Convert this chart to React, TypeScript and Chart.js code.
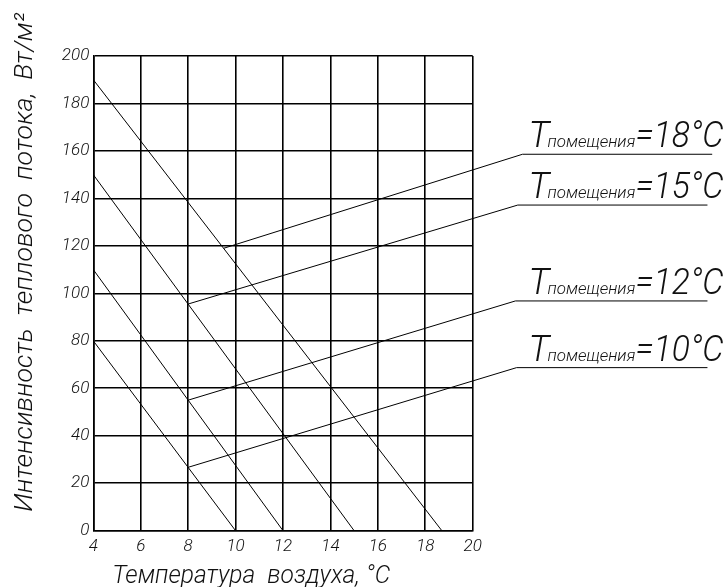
import { useEffect, useRef } from "react";
import { Chart, registerables } from "chart.js";

Chart.register(...registerables);

// Axis ranges / ticks
const X_MIN = 4;
const X_MAX = 20;
const X_STEP = 2;
const Y_MIN = 0;
const Y_MAX = 200;
const Y_STEP = 20;

// Room temperatures (series)
const roomTemps = [18, 15, 12, 10];
// Descending lines: value at x = 4 and x where value reaches 0
const lineStartX = [4, 4, 4, 4];
const lineStartY = [190, 150, 110, 80];
const lineZeroX = [18.7, 15, 12, 10];
// Leader lines to labels
const leaderStartX = [9.5, 8, 8, 8];
const leaderStartY = [119, 95.5, 55, 26.7];
const leaderEndX = [22.1, 21.9, 21.8, 21.85];
const leaderEndY = [158.6, 137.2, 96.8, 68.7];
const underlineEndX = [30.1, 29.9, 29.9, 29.9];

const xTitle = "Температура  воздуха, °C";
const yTitle = "Интенсивность  теплового  потока,  Вт/м²";
const subText = "помещения";

const FONT = "Roboto, 'Liberation Sans', Arial, sans-serif";
const TEXT_COLOR = "#111";

function fitText(ctx: CanvasRenderingContext2D, text: string, x: number, y: number, width: number) {
  const w = ctx.measureText(text).width;
  const s = width / w;
  ctx.save();
  ctx.translate(x, y);
  ctx.scale(s, 1);
  ctx.textAlign = "left";
  ctx.fillText(text, 0, 0);
  ctx.restore();
}

export default function App() {
  const ref = useRef<HTMLCanvasElement>(null);

  useEffect(() => {
    if (!ref.current) return;
    const datasets: any[] = [];
    for (let i = 0; i < roomTemps.length; i++) {
      datasets.push({
        label: "T" + roomTemps[i],
        data: [
          { x: lineStartX[i], y: lineStartY[i] },
          { x: lineZeroX[i], y: 0 },
        ],
        borderColor: "#000",
        borderWidth: 1,
        pointRadius: 0,
        tension: 0,
      });
    }
    for (let i = 0; i < roomTemps.length; i++) {
      datasets.push({
        label: "leader" + roomTemps[i],
        data: [
          { x: underlineEndX[i], y: leaderEndY[i] },
          { x: leaderEndX[i], y: leaderEndY[i] },
          { x: leaderStartX[i], y: leaderStartY[i] },
        ],
        borderColor: "#000",
        borderWidth: 1,
        pointRadius: 0,
        tension: 0,
        clip: false,
      });
    }

    const textPlugin = {
      id: "textPlugin",
      afterDraw(chart: any) {
        const ctx: CanvasRenderingContext2D = chart.ctx;
        const xs = chart.scales.x;
        const ys = chart.scales.y;
        const area = chart.chartArea;
        ctx.save();
        ctx.fillStyle = TEXT_COLOR;
        ctx.textBaseline = "alphabetic";

        // X title
        ctx.font = `italic 300 26px ${FONT}`;
        fitText(ctx, xTitle, area.left + 19, area.bottom + 52, 278);

        // Y title (rotated)
        ctx.save();
        ctx.translate(32, area.bottom - 19);
        ctx.rotate(-Math.PI / 2);
        ctx.font = `italic 300 26px ${FONT}`;
        fitText(ctx, yTitle, 0, 0, 499);
        ctx.restore();

        // Series labels: T, subscript, "=NN°C"
        const labelStart = xs.getPixelForValue(leaderEndX[0]) + 8;
        for (let i = 0; i < roomTemps.length; i++) {
          const uy = ys.getPixelForValue(leaderEndY[i]);
          const base = uy - 7;
          const x0 = labelStart;
          ctx.font = `italic 300 36px ${FONT}`;
          ctx.textAlign = "left";
          ctx.fillText("T", x0 - 2, base);
          ctx.font = `italic 300 17px ${FONT}`;
          fitText(ctx, subText, x0 + 17, base, 88);
          ctx.font = `italic 300 36px ${FONT}`;
          fitText(ctx, "=" + roomTemps[i] + "°C", x0 + 105, base, 88);
        }
        ctx.restore();
      },
    };

    const chart = new Chart(ref.current, {
      type: "line",
      data: { datasets },
      options: {
        responsive: false,
        animation: false,
        events: [],
        layout: { padding: { top: 56, right: 255.3, left: 0, bottom: 0 } },
        plugins: {
          legend: { display: false },
          tooltip: { enabled: false },
          title: { display: false },
        },
        scales: {
          x: {
            type: "linear",
            min: X_MIN,
            max: X_MAX,
            ticks: {
              stepSize: X_STEP,
              color: TEXT_COLOR,
              font: { family: FONT, size: 17, style: "italic", weight: 300 },
              padding: 6,
              maxRotation: 0,
            },
            grid: { color: "#000", lineWidth: 1.6, drawTicks: false },
            border: { color: "#000", width: 1.6 },
            afterFit: (s: any) => {
              s.height = 56.3;
            },
          },
          y: {
            type: "linear",
            min: Y_MIN,
            max: Y_MAX,
            ticks: {
              stepSize: Y_STEP,
              color: TEXT_COLOR,
              font: { family: FONT, size: 17, style: "italic", weight: 300 },
              padding: 4,
            },
            grid: { color: "#000", lineWidth: 1.6, drawTicks: false },
            border: { color: "#000", width: 1.6 },
            afterFit: (s: any) => {
              s.width = 93.3;
            },
          },
        },
      },
      plugins: [textPlugin],
    } as any);
    return () => chart.destroy();
  }, []);

  return (
    <div style={{ position: "absolute", left: 0, top: 0, width: 728, height: 587, background: "#fff" }}>
      <canvas ref={ref} width={728} height={587} style={{ display: "block" }} />
    </div>
  );
}
